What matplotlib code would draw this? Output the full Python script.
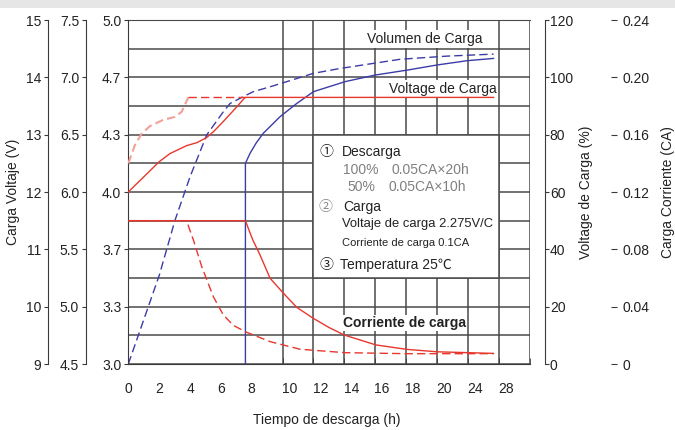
import numpy as np
import matplotlib
matplotlib.use("Agg")
import matplotlib.pyplot as plt
from matplotlib.patches import Rectangle
from matplotlib.ticker import FixedLocator, MultipleLocator

plt.rcParams['font.family'] = ['Liberation Sans', 'Noto Sans CJK SC', 'DejaVu Sans']
plt.rcParams['font.size'] = 10
for key in ('text.color', 'axes.labelcolor', 'xtick.color', 'ytick.color'):
    plt.rcParams[key] = '#222222'

# ---------------- data ----------------
hour_ticks = [0, 2, 4, 6, 8, 10, 12, 14, 16, 18, 20, 22, 24, 26]
hour_labels = ['0', '2', '4', '6', '8', '10', '12', '14', '16', '18', '20', '24', '28']

# charge voltage of a 12 V block (V)
volt_full_t = [0, 2.01, 2.70, 3.79, 4.44, 5.08, 5.51, 6.16, 6.81, 7.57, 23.67]
volt_full_v = [12.0, 12.53, 12.67, 12.81, 12.86, 12.95, 13.05, 13.23, 13.42, 13.65, 13.65]
volt_half_t = [0, 0.43, 0.87, 1.41, 2.27, 3.03, 3.46, 3.89, 7.57]
volt_half_v = [12.5, 12.82, 13.02, 13.15, 13.26, 13.31, 13.40, 13.65, 13.65]

# charged volume (%)
vol_half_t = [0, 2.01, 3.03, 3.48, 4.0, 5.08, 6.16, 6.6, 7.46, 8.1, 9.19, 10.27, 12.0, 13.73, 17.62, 20.65, 23.67]
vol_half_p = [0, 31.0, 50.2, 57.2, 65.3, 79.9, 88.0, 90.9, 93.3, 95.0, 96.7, 98.5, 101.4, 103.1, 106.3, 107.4, 108.1]
vol_full_t = [7.59, 7.59, 7.89, 8.3, 8.75, 9.84, 10.92, 12.0, 14.05, 16.0, 18.05, 20.0, 21.95, 23.67]
vol_full_p = [0, 70.0, 73.5, 77.2, 80.5, 86.3, 90.9, 95.0, 98.5, 100.8, 102.5, 104.3, 105.8, 106.6]

# charge current (CA)
cur_full_t = [0, 7.59, 7.8, 8.07, 8.54, 9.19, 10.06, 10.92, 12.0, 13.0, 14.0, 16.05, 18.05, 20.04, 22.05, 23.67]
cur_full_a = [0.1, 0.1, 0.094, 0.0865, 0.076, 0.0598, 0.0493, 0.0395, 0.0318, 0.0255, 0.0202, 0.0133, 0.0102,
              0.0085, 0.0079, 0.0074]
cur_half_t = [0, 3.78, 4.0, 4.22, 4.76, 5.51, 6.16, 6.8, 7.59, 9.19, 11.13, 14.05, 18.05, 23.67]
cur_half_a = [0.1, 0.1, 0.093, 0.0865, 0.0679, 0.047, 0.0342, 0.027, 0.0225, 0.0156, 0.0103, 0.0079, 0.0072, 0.0072]

RED = '#e8372e'
PINK = '#f2a09a'
BLUE = '#3c3ca8'
GRID = '#4a4a4a'
SPINE = '#3a3a3a'

fig = plt.figure(figsize=(6.75, 4.30), dpi=100)
fig.patches.append(Rectangle((0, 1 - 8 / 430), 1, 8 / 430, transform=fig.transFigure,
                             facecolor='#e6e6e6', edgecolor='none', zorder=-1))

ax = fig.add_axes([128.3 / 675, 1 - 364 / 430, 401.2 / 675, 344 / 430])
ax.set_xlim(0, 26)
ax.set_ylim(0, 120)

# grid
ax.xaxis.set_minor_locator(FixedLocator(hour_ticks))
label_pos = [h if h < 10 else h + 0.45 for h in hour_ticks[:len(hour_labels)]]
ax.xaxis.set_major_locator(FixedLocator(label_pos))
ax.set_xticklabels(hour_labels)
ax.tick_params(axis='x', which='major', length=0, pad=13, labelsize=10)
ax.tick_params(axis='x', which='minor', direction='in', length=4, color=SPINE)
ax.yaxis.set_major_locator(MultipleLocator(20))
ax.yaxis.set_minor_locator(MultipleLocator(10))
ax.grid(which='minor', axis='x', color=GRID, lw=1.1, zorder=0.5)
ax.grid(which='both', axis='y', color=GRID, lw=1.1, zorder=0.5)
ax.set_axisbelow(True)

# note box
ax.add_patch(Rectangle((12, 30), 12, 50, facecolor='white', edgecolor=GRID, lw=1.1, zorder=1))
circ = ['Noto Sans CJK SC', 'DejaVu Sans']
ax.text(12.85, 74.0, '①', family=circ, fontsize=10, ha='center', va='center', zorder=2)
ax.text(13.86, 74.0, 'Descarga', fontsize=10, ha='left', va='center', zorder=2)
ax.text(13.92, 67.7, '100%', fontsize=10, color='#808080', ha='left', va='center', zorder=2)
ax.text(17.05, 67.7, '0.05CA×20h', fontsize=10, color='#808080', ha='left', va='center', zorder=2)
ax.text(14.17, 61.7, '50%', fontsize=10, color='#808080', ha='left', va='center', zorder=2)
ax.text(16.85, 61.7, '0.05CA×10h', fontsize=10, color='#808080', ha='left', va='center', zorder=2)
ax.text(12.75, 54.9, '②', family=circ, fontsize=10, color='#888888', ha='center', va='center', zorder=2)
ax.text(13.95, 54.9, 'Carga', fontsize=10, ha='left', va='center', zorder=2)
ax.text(13.86, 48.8, 'Voltaje de carga 2.275V/C', fontsize=9.4, ha='left', va='center', zorder=2)
ax.text(13.86, 42.3, 'Corriente de carga 0.1CA', fontsize=8, ha='left', va='center', zorder=2)
ax.text(12.85, 34.5, '③', family=circ, fontsize=10, ha='center', va='center', zorder=2)
ax.text(13.73, 34.5, 'Temperatura 25℃', family=['Liberation Sans', 'Noto Sans CJK SC'],
        fontsize=10, ha='left', va='center', zorder=2)

# curve captions
white = dict(facecolor='white', edgecolor='none', pad=1.5)
ax.text(19.22, 113.5, 'Volumen de Carga', fontsize=10, ha='center', va='center', bbox=white, zorder=2)
ax.text(20.36, 96.0, 'Voltage de Carga', fontsize=10, ha='center', va='center', bbox=white, zorder=2)
ax.text(17.92, 14.3, 'Corriente de carga', fontsize=10, fontweight='bold', ha='center', va='center',
        bbox=dict(facecolor='white', edgecolor='none', pad=0.5), zorder=2)

# charged volume curves
ax.plot(vol_half_t, vol_half_p, color=BLUE, lw=1.0, dashes=(6, 3), zorder=3)
ax.plot(vol_full_t, vol_full_p, color=BLUE, lw=1.0, zorder=3)


# voltage axes on the left
def left_axis(offset_px, lo, hi, ticks, fmt):
    a = ax.twinx()
    a.yaxis.tick_left()
    a.yaxis.set_label_position('left')
    a.set_ylim(lo, hi)
    for s in ('right', 'top', 'bottom'):
        a.spines[s].set_visible(False)
    a.spines['left'].set_position(('axes', offset_px / 401.2))
    a.spines['left'].set_color(SPINE)
    a.set_yticks(ticks)
    a.set_yticklabels([fmt % t for t in ticks])
    a.tick_params(axis='y', direction='out', length=3, pad=2, labelsize=10, color=SPINE)
    return a


ax_v3 = left_axis(0, 3.0, 5.0, np.linspace(3.0, 5.0, 7), '%.1f')
ax_v6 = left_axis(86 - 128.3, 4.5, 7.5, np.arange(4.5, 7.6, 0.5), '%.1f')
ax_v12 = left_axis(48 - 128.3, 9, 15, np.arange(9, 16, 1), '%d')
ax_v12.set_ylabel('Carga Voltaje (V)', fontsize=10)
ax_v12.yaxis.label.set_verticalalignment('center')
ax_v12.yaxis.set_label_coords((13 - 128.3) / 401.2, 0.5)

ax_v12.plot(volt_half_t[:8], volt_half_v[:8], color=PINK, lw=1.5, dashes=(4, 2))
ax_v12.plot(volt_half_t[7:], volt_half_v[7:], color=RED, lw=1.0, dashes=(6, 3))
ax_v12.plot(volt_full_t, volt_full_v, color=RED, lw=1.0)

# charge current axis on the far right
ax_c = ax.twinx()
ax_c.set_ylim(0, 0.24)
for s in ('left', 'top', 'bottom', 'right'):
    ax_c.spines[s].set_visible(False)
ax_c.spines['right'].set_position(('axes', (611 - 128.3) / 401.2))
cur_ticks = np.arange(0, 0.25, 0.04)
ax_c.set_yticks(cur_ticks)
ax_c.set_yticklabels(['0'] + ['%.2f' % t for t in cur_ticks[1:]])
ax_c.tick_params(axis='y', direction='out', length=4, pad=4, labelsize=10, color=SPINE)
ax_c.set_ylabel('Carga Corriente (CA)', fontsize=10)
ax_c.yaxis.label.set_verticalalignment('center')
ax_c.yaxis.set_label_coords((668 - 128.3) / 401.2, 0.5)

ax_c.plot(cur_half_t, cur_half_a, color=RED, lw=1.0, dashes=(6, 3))
ax_c.plot(cur_full_t, cur_full_a, color=RED, lw=1.0)

# % axis on the right of the main axes (set after the twins, which reset it)
ax.yaxis.tick_right()
ax.yaxis.set_label_position('right')
ax.spines['right'].set_position(('axes', (545 - 128.3) / 401.2))
ax.spines['left'].set_visible(False)
for s in ('right', 'bottom'):
    ax.spines[s].set_color(SPINE)
ax.spines['top'].set_color(GRID)
ax.tick_params(axis='y', which='major', direction='out', length=3, pad=0.5, labelsize=10, color=SPINE)
ax.tick_params(axis='y', which='minor', length=0)
ax.set_ylabel('Voltage de Carga (%)', fontsize=10)
ax.yaxis.label.set_verticalalignment('center')
ax.yaxis.set_label_coords((586 - 128.3) / 401.2, 0.5)
ax.set_xlabel('Tiempo de descarga (h)', fontsize=10)
ax.xaxis.label.set_verticalalignment('center')
ax.xaxis.set_label_coords((327 - 128.3) / 401.2, (364 - 420) / 344)

fig.savefig('out.png', dpi=100)
